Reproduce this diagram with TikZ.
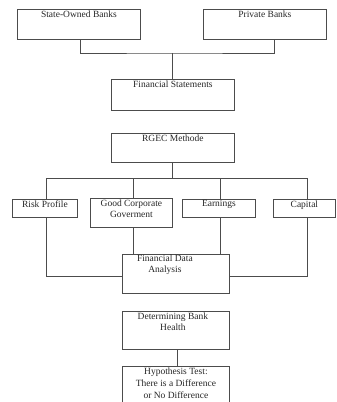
\documentclass[tikz,border=0pt]{standalone}
\usepackage{fontspec}
\setmainfont{Liberation Serif}
\begin{document}
\begin{tikzpicture}[x=1pt,y=-1pt,
  box/.style={draw=black!70,line width=0.8pt,rectangle,inner sep=0pt,anchor=north west},
  lab/.style={anchor=north,inner sep=1.5pt,font=\fontsize{9.5}{11.5}\selectfont,align=center,text=black!85},
  conn/.style={draw=black!70,line width=0.8pt}]
\useasboundingbox (0,0) rectangle (337,402);
% boxes
\node[box,minimum width=123pt,minimum height=30pt,label={[lab]north:State-Owned Banks}] (sob) at (17,9) {};
\node[box,minimum width=123pt,minimum height=30pt,label={[lab]north:Private Banks}] (pb) at (203,9) {};
\node[box,minimum width=123pt,minimum height=31pt,label={[lab]north:Financial Statements}] (fs) at (111,79) {};
\node[box,minimum width=123pt,minimum height=29pt,label={[lab]north:RGEC Methode}] (rgec) at (111,133) {};
\node[box,minimum width=65pt,minimum height=18pt,label={[lab]north:Risk Profile}] (risk) at (12,199) {};
\node[box,minimum width=82pt,minimum height=29pt,label={[lab]north:Good Corporate\\Goverment}] (gcg) at (90,198) {};
\node[box,minimum width=73pt,minimum height=18pt,label={[lab]north:Earnings}] (earn) at (182,199) {};
\node[box,minimum width=62pt,minimum height=18pt,label={[lab]north:Capital}] (cap) at (273,199) {};
\node[box,minimum width=107pt,minimum height=39pt,label={[lab,xshift=-11pt,yshift=1pt]north:Financial Data\\Analysis}] (fda) at (122,254) {};
\node[box,minimum width=107pt,minimum height=38pt,label={[lab,xshift=-3pt]north:Determining Bank\\Health}] (dbh) at (122,311) {};
\node[box,minimum width=107pt,minimum height=40pt,label={[lab,font=\fontsize{9.5}{12}\selectfont]north:Hypothesis Test:\\There is a Difference\\or No Difference}] (ht) at (122,366) {};
% junction coordinates
\coordinate (j1) at (172,53);
\coordinate (j2) at (172,178);
\coordinate (jl) at (46,178);
\coordinate (jr) at (307,178);
\coordinate (bl) at (46,276);
\coordinate (br) at (307,276);
% connectors
\draw[conn] ([xshift=63pt]sob.south west) |- (j1) -| ([xshift=-52pt]pb.south east);
\draw[conn] (j1) -- (j1 |- fs.north);
\draw[conn] ([xshift=61pt]rgec.south west) -- (j2);
\draw[conn] (jl |- risk.north) -- (jl) -- (jr) -- (jr |- cap.north);
\draw[conn] ([xshift=43pt]gcg.north west) -- ([xshift=43pt]gcg.north west |- j2);
\draw[conn] ([xshift=38pt]earn.north west) -- ([xshift=38pt]earn.north west |- j2);
\draw[conn] (jl |- risk.south) -- (bl) -- (bl -| fda.west);
\draw[conn] (jr |- cap.south) -- (br) -- (br -| fda.east);
\draw[conn] ([xshift=43pt]gcg.south west) -- ([xshift=43pt]gcg.south west |- fda.north);
\draw[conn] ([xshift=38pt]earn.south west) -- ([xshift=38pt]earn.south west |- fda.north);
\draw[conn] ([xshift=55pt]dbh.south west) -- ([xshift=55pt]ht.north west);
\end{tikzpicture}
\end{document}
